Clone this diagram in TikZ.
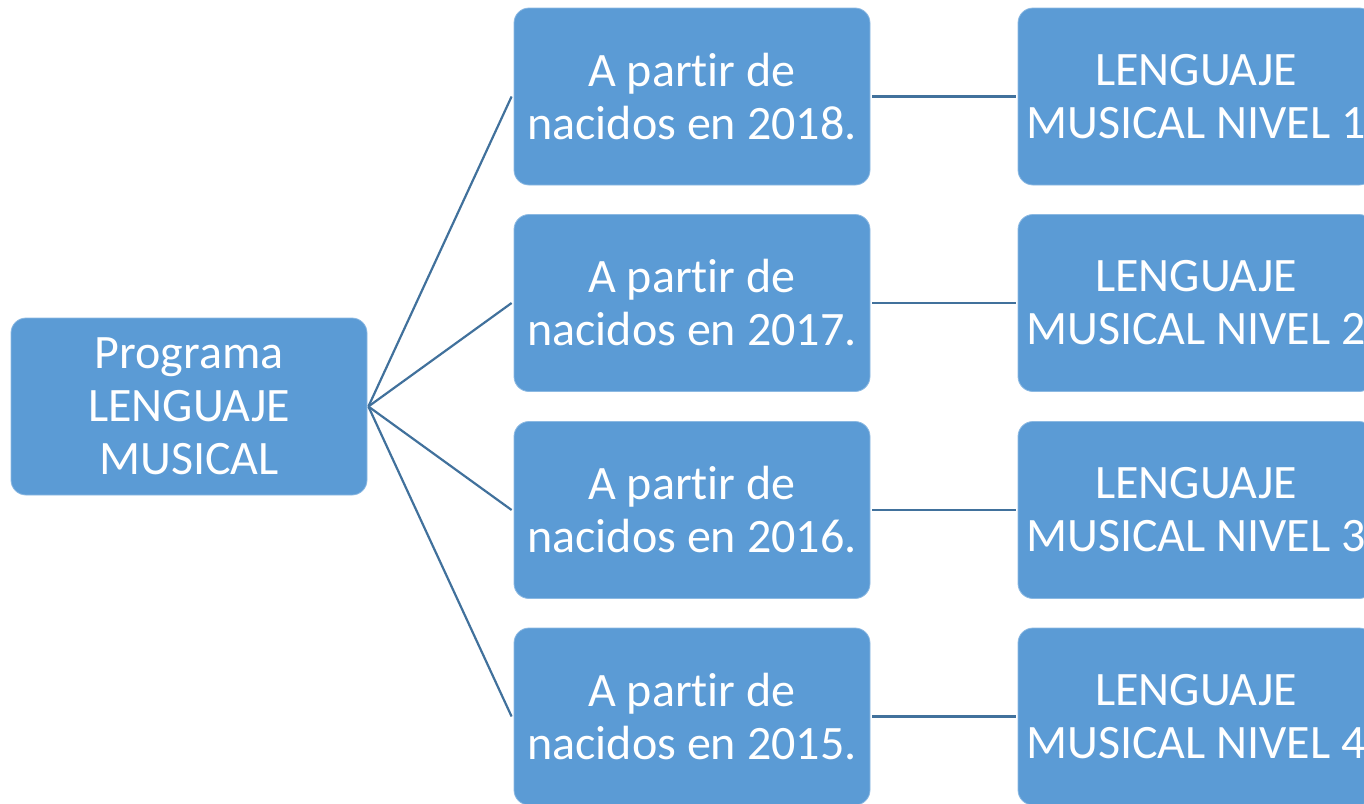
\documentclass[tikz,border=0pt]{standalone}
\usepackage{fontspec}
\setmainfont{Carlito}[Ligatures={NoCommon}]
\definecolor{boxfill}{HTML}{5B9BD5}
\definecolor{linec}{HTML}{41719C}
\begin{document}
\begin{tikzpicture}[x=1pt,y=-1pt,
  box/.style={fill=boxfill, draw=boxfill!70!white, line width=0.8pt, rounded corners=15pt,
    minimum width=356pt, minimum height=177pt, inner sep=0pt, align=center, text=white,
    font=\fontsize{48}{53}\selectfont},
  conn/.style={draw=linec, line width=2.2pt}]
\useasboundingbox (0,0) rectangle (1364,803);
\clip (0,0) rectangle (1364,803);
\node[box] (root) at (189,406.5) {Programa\\LENGUAJE\\MUSICAL};
\node[box] (a1) at (692,96.5) {A partir de\\nacidos en 2018.};
\node[box] (a2) at (692,303) {A partir de\\nacidos en 2017.};
\node[box] (a3) at (692,510) {A partir de\\nacidos en 2016.};
\node[box] (a4) at (692,716.5) {A partir de\\nacidos en 2015.};
\node[box] (b1) at (1196,96.5) {LENGUAJE\\MUSICAL NIVEL 1};
\node[box] (b2) at (1196,303) {LENGUAJE\\MUSICAL NIVEL 2};
\node[box] (b3) at (1196,510) {LENGUAJE\\MUSICAL NIVEL 3};
\node[box] (b4) at (1196,716.5) {LENGUAJE\\MUSICAL NIVEL 4};
\foreach \i in {1,2,3,4}{
  \draw[conn] ([xshift=1pt]root.east) -- ([xshift=-2pt]a\i.west);
  \draw[conn] ([xshift=2pt]a\i.east) -- ([xshift=-2pt]b\i.west);
}
\end{tikzpicture}
\end{document}
